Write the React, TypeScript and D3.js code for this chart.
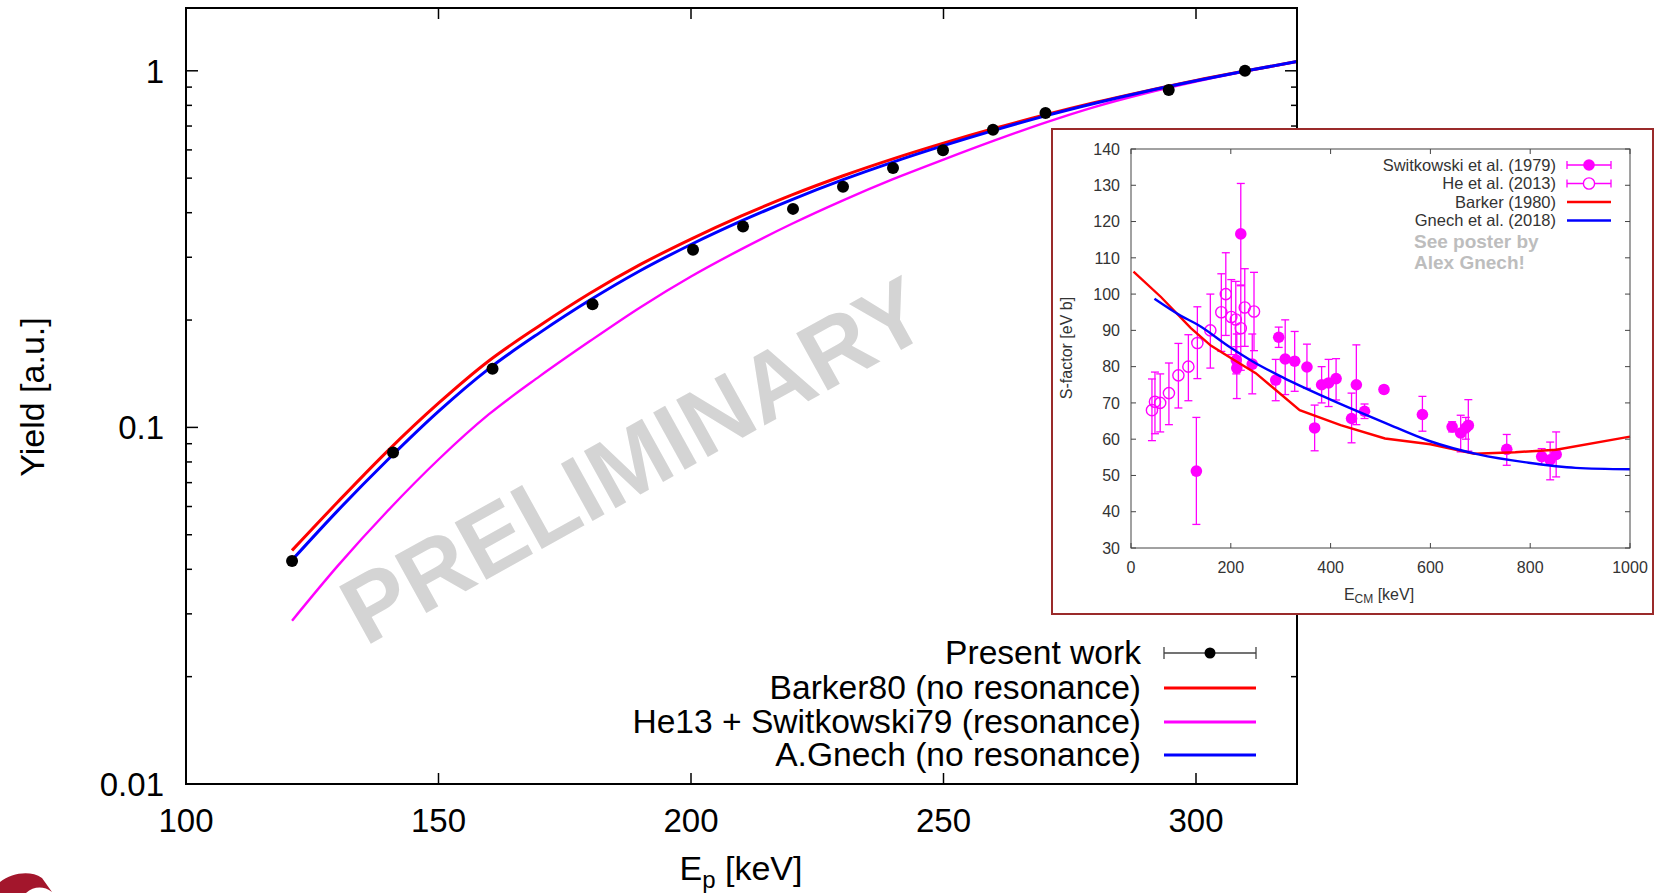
import React from 'react';
import * as d3 from 'd3';

// ---------- Main plot data ----------
const presentE = [121, 141, 160.7, 180.5, 200.4, 210.3, 220.2, 230.1, 240, 249.9, 259.8, 270.2, 294.6, 309.7];
const presentY = [0.0422, 0.085, 0.146, 0.2215, 0.3147, 0.366, 0.41, 0.4727, 0.534, 0.599, 0.683, 0.761, 0.884, 1.0];

const curveE = [121, 130, 140, 150, 160, 170, 180, 190, 200, 210, 220, 230, 240, 250, 260, 270, 280, 290, 300, 310, 320];
const barkerY = [0.04519, 0.06166, 0.0861, 0.1169, 0.1538, 0.1928, 0.2377, 0.2864, 0.3373, 0.3917, 0.4487, 0.507, 0.5662, 0.6266, 0.6887, 0.7516, 0.8147, 0.877, 0.9397, 1.0, 1.0617];
const heSwitY = [0.02871, 0.04083, 0.05848, 0.08128, 0.1089, 0.139, 0.1746, 0.2173, 0.2649, 0.3162, 0.3724, 0.4325, 0.4966, 0.5636, 0.6368, 0.7145, 0.7925, 0.865, 0.9333, 0.9977, 1.0617];
const gnechY = [0.04246, 0.05834, 0.08128, 0.1109, 0.1462, 0.1841, 0.2275, 0.2754, 0.3258, 0.3793, 0.4355, 0.4943, 0.5546, 0.6166, 0.6808, 0.7464, 0.811, 0.875, 0.9376, 1.0, 1.0617];

const xTicks = [100, 150, 200, 250, 300];
const yTickVals = [0.01, 0.1, 1];
const yTickLabels = ['0.01', '0.1', '1'];

const legendLabels = ['Present work', 'Barker80 (no resonance)', 'He13 + Switkowski79 (resonance)', 'A.Gnech (no resonance)'];

// ---------- Inset data (S-factor) ----------
const switE = [131, 211, 212, 220, 243, 290, 296, 309, 328, 352.6, 368, 382, 396, 411, 442, 451.6, 468, 507, 584, 643.5, 660.7, 671, 676, 753, 823, 840, 852];
const switS = [51.2, 81.8, 79.6, 116.6, 80.7, 76.3, 88.1, 82.1, 81.5, 79.9, 63.1, 75, 75.5, 76.7, 65.7, 75, 67.7, 73.7, 66.8, 63.4, 61.7, 63.1, 63.8, 57.2, 55.2, 54.3, 55.8];
const switLo = [36.5, 78, 71.2, 102.5, 72.5, 70.6, 85.3, 72.3, 73.2, 74, 56.8, 70, 69, 70.8, 59, 64, 65.7, 72.7, 62.2, 62, 56.5, 60, 56.7, 52.8, 53, 48.8, 49.6];
const switHi = [66, 85.5, 89, 130.5, 89, 82, 90.9, 92.9, 89.7, 86.2, 69.4, 80, 82, 82.2, 72.7, 86, 69.7, 74.7, 71.8, 64.8, 66.6, 66, 70.9, 61.3, 57.4, 59.2, 62];

const heE = [42, 48, 58.5, 76, 95, 115, 133, 159, 181, 190, 201, 210, 220, 228, 246.5];
const heS = [68, 70.3, 70, 72.7, 77.6, 80, 86.5, 90, 95, 100, 93.7, 93, 90.6, 96.3, 95.2];
const heLo = [59.6, 61.5, 62, 64, 68.6, 70.6, 76.7, 79.6, 84.2, 88.6, 83.3, 82.5, 79, 85.6, 84.4];
const heHi = [76.6, 78.5, 78, 81, 86.4, 88.8, 96.5, 100, 105.6, 111.4, 104, 103.5, 102.3, 107, 106];

const barkerInsetE = [5, 60, 120, 160, 200, 250, 338, 420, 509, 600, 688, 770, 852, 1000];
const barkerInsetS = [106.2, 99.2, 90.6, 85.8, 82.4, 78.2, 68.0, 63.9, 60.2, 58.6, 56.0, 56.4, 57.1, 60.7];

const gnechInsetE = [47, 100, 133, 200, 243, 306, 400, 509, 598, 696, 797, 891, 1000];
const gnechInsetS = [98.7, 94.0, 91.6, 85.2, 81.5, 76.9, 70.9, 64.5, 59.5, 55.8, 53.5, 52.1, 51.7];

const insetXTicks = [0, 200, 400, 600, 800, 1000];
const insetYTicks = [30, 40, 50, 60, 70, 80, 90, 100, 110, 120, 130, 140];
const insetLegend = ['Switkowski et al. (1979)', 'He et al. (2013)', 'Barker (1980)', 'Gnech et al. (2018)'];

const FONT = '"Liberation Sans", Arial, Helvetica, sans-serif';

export default function App() {
  const W = 1659, H = 893;
  const L = 186, R = 1297, T = 8, B = 784;
  const x = d3.scaleLinear().domain([100, 320]).range([L, R]);
  const y = d3.scaleLog().domain([0.01, 1.5]).range([B, T]);

  const mkLine = (ys: number[]) =>
    d3.line<number>().x((_, i) => x(curveE[i])).y((v) => y(v)).curve(d3.curveMonotoneX)(ys) as string;

  // minor ticks
  const minor: number[] = [];
  [0.01, 0.1].forEach((d) => { for (let k = 2; k <= 9; k++) minor.push(k * d); });

  // inset scales
  const IL = 1131, IR = 1630, IT = 149, IB = 548;
  const ix = d3.scaleLinear().domain([0, 1000]).range([IL, IR]);
  const iy = d3.scaleLinear().domain([30, 140]).range([IB, IT]);
  const insetLine = (es: number[], ss: number[], curve: any) =>
    d3.line<number>().x((_, i) => ix(es[i])).y((v) => iy(v)).curve(curve)(ss) as string;

  const legY = [653, 688, 722, 755];
  const insLegY = [165, 183.5, 202, 220.5];
  const MAG = '#ff00ff';

  return (
    <svg width={W} height={H} style={{ position: 'absolute', left: 0, top: 0, background: '#fff' }} fontFamily={FONT}>
      <rect x={0} y={0} width={W} height={H} fill="#fff" />

      {/* watermark */}
      <text x={650} y={489} transform="rotate(-29 650 489)" textAnchor="middle" fontSize={95} fontWeight="bold" fill="#d4d4d4">PRELIMINARY</text>

      {/* curves */}
      <path d={mkLine(heSwitY)} fill="none" stroke="#ff00ff" strokeWidth={2.4} />
      <path d={mkLine(barkerY)} fill="none" stroke="#ff0000" strokeWidth={3} />
      <path d={mkLine(gnechY)} fill="none" stroke="#0000ff" strokeWidth={3} />

      {/* data points */}
      {presentE.map((e, i) => (
        <circle key={i} cx={x(e)} cy={y(presentY[i])} r={6} fill="#000" />
      ))}

      {/* frame */}
      <rect x={L} y={T} width={R - L} height={B - T} fill="none" stroke="#000" strokeWidth={2} />
      {yTickVals.map((v) => (
        <g key={v}>
          <line x1={L} x2={L + 12} y1={y(v)} y2={y(v)} stroke="#000" strokeWidth={1.5} />
          <line x1={R} x2={R - 12} y1={y(v)} y2={y(v)} stroke="#000" strokeWidth={1.5} />
        </g>
      ))}
      {minor.map((v) => (
        <g key={v}>
          <line x1={L} x2={L + 6} y1={y(v)} y2={y(v)} stroke="#000" strokeWidth={1.5} />
          <line x1={R} x2={R - 6} y1={y(v)} y2={y(v)} stroke="#000" strokeWidth={1.5} />
        </g>
      ))}
      {xTicks.slice(1).map((v) => (
        <g key={v}>
          <line x1={x(v)} x2={x(v)} y1={B} y2={B - 11} stroke="#000" strokeWidth={1.5} />
          <line x1={x(v)} x2={x(v)} y1={T} y2={T + 11} stroke="#000" strokeWidth={1.5} />
        </g>
      ))}
      {yTickVals.map((v, i) => (
        <text key={v} x={164} y={y(v)} dy="0.36em" textAnchor="end" fontSize={33} fill="#000">{yTickLabels[i]}</text>
      ))}
      {xTicks.map((v) => (
        <text key={v} x={x(v)} y={820} dy="0.36em" textAnchor="middle" fontSize={33} fill="#000">{v}</text>
      ))}
      <text x={741} y={880} textAnchor="middle" fontSize={34} fill="#000">
        E<tspan fontSize={24} dy={8}>p</tspan><tspan dy={-8}> [keV]</tspan>
      </text>
      <text x={32} y={397} transform="rotate(-90 32 397)" textAnchor="middle" dy="0.36em" fontSize={34} fill="#000">Yield [a.u.]</text>

      {/* main legend */}
      {legendLabels.map((t, i) => (
        <text key={t} x={1141} y={legY[i]} dy="0.34em" textAnchor="end" fontSize={33.6} fill="#000">{t}</text>
      ))}
      <line x1={1164} x2={1256} y1={legY[0]} y2={legY[0]} stroke="#444" strokeWidth={1.3} />
      <line x1={1164} x2={1164} y1={legY[0] - 6} y2={legY[0] + 6} stroke="#444" strokeWidth={1.3} />
      <line x1={1256} x2={1256} y1={legY[0] - 6} y2={legY[0] + 6} stroke="#444" strokeWidth={1.3} />
      <circle cx={1210} cy={legY[0]} r={5.5} fill="#000" />
      <line x1={1164} x2={1256} y1={legY[1]} y2={legY[1]} stroke="#ff0000" strokeWidth={3} />
      <line x1={1164} x2={1256} y1={legY[2]} y2={legY[2]} stroke="#ff00ff" strokeWidth={3} />
      <line x1={1164} x2={1256} y1={legY[3]} y2={legY[3]} stroke="#0000ff" strokeWidth={3} />

      {/* ---------- inset ---------- */}
      <rect x={1052} y={129} width={601} height={485} fill="#fff" stroke="#9a2a2a" strokeWidth={2} />
      {heE.map((e, i) => (
        <g key={'he' + i} stroke={MAG} strokeWidth={1.3}>
          <line x1={ix(e)} x2={ix(e)} y1={iy(heLo[i])} y2={iy(heHi[i])} />
          <line x1={ix(e) - 4} x2={ix(e) + 4} y1={iy(heLo[i])} y2={iy(heLo[i])} />
          <line x1={ix(e) - 4} x2={ix(e) + 4} y1={iy(heHi[i])} y2={iy(heHi[i])} />
        </g>
      ))}
      {switE.map((e, i) => (
        <g key={'sw' + i} stroke={MAG} strokeWidth={1.3}>
          <line x1={ix(e)} x2={ix(e)} y1={iy(switLo[i])} y2={iy(switHi[i])} />
          <line x1={ix(e) - 4} x2={ix(e) + 4} y1={iy(switLo[i])} y2={iy(switLo[i])} />
          <line x1={ix(e) - 4} x2={ix(e) + 4} y1={iy(switHi[i])} y2={iy(switHi[i])} />
        </g>
      ))}
      {heE.map((e, i) => (
        <circle key={'hec' + i} cx={ix(e)} cy={iy(heS[i])} r={5.6} fill="none" stroke={MAG} strokeWidth={1.4} />
      ))}
      {switE.map((e, i) => (
        <circle key={'swc' + i} cx={ix(e)} cy={iy(switS[i])} r={5.8} fill={MAG} />
      ))}
      <path d={insetLine(barkerInsetE, barkerInsetS, d3.curveLinear)} fill="none" stroke="#ff0000" strokeWidth={2.4} />
      <path d={insetLine(gnechInsetE, gnechInsetS, d3.curveMonotoneX)} fill="none" stroke="#0000ff" strokeWidth={2.4} />

      <rect x={IL} y={IT} width={IR - IL} height={IB - IT} fill="none" stroke="#444" strokeWidth={1} />
      {insetYTicks.map((v) => (
        <g key={'iyt' + v}>
          <line x1={IL} x2={IL + 5} y1={iy(v)} y2={iy(v)} stroke="#444" />
          <line x1={IR} x2={IR - 5} y1={iy(v)} y2={iy(v)} stroke="#444" />
          <text x={1120} y={iy(v)} dy="0.36em" textAnchor="end" fontSize={16} fill="#333">{v}</text>
        </g>
      ))}
      {insetXTicks.map((v) => (
        <g key={'ixt' + v}>
          <line x1={ix(v)} x2={ix(v)} y1={IB} y2={IB - 5} stroke="#444" />
          <line x1={ix(v)} x2={ix(v)} y1={IT} y2={IT + 5} stroke="#444" />
          <text x={ix(v)} y={567} dy="0.36em" textAnchor="middle" fontSize={16} fill="#333">{v}</text>
        </g>
      ))}
      <text x={1379} y={600} textAnchor="middle" fontSize={16} fill="#333">
        E<tspan fontSize={12} dy={3}>CM</tspan><tspan dy={-3}> [keV]</tspan>
      </text>
      <text x={1066} y={348} transform="rotate(-90 1066 348)" textAnchor="middle" dy="0.36em" fontSize={16} fill="#333">S-factor [eV b]</text>

      {/* inset legend */}
      {insetLegend.map((t, i) => (
        <text key={t} x={1556} y={insLegY[i]} dy="0.36em" textAnchor="end" fontSize={16.5} fill="#333">{t}</text>
      ))}
      {[0, 1].map((i) => (
        <g key={'il' + i} stroke={MAG} strokeWidth={1.3}>
          <line x1={1567} x2={1611} y1={insLegY[i]} y2={insLegY[i]} />
          <line x1={1567} x2={1567} y1={insLegY[i] - 4} y2={insLegY[i] + 4} />
          <line x1={1611} x2={1611} y1={insLegY[i] - 4} y2={insLegY[i] + 4} />
        </g>
      ))}
      <circle cx={1589} cy={insLegY[0]} r={5.8} fill={MAG} />
      <circle cx={1589} cy={insLegY[1]} r={5.6} fill="#fff" stroke={MAG} strokeWidth={1.4} />
      <line x1={1567} x2={1611} y1={insLegY[2]} y2={insLegY[2]} stroke="#ff0000" strokeWidth={2.4} />
      <line x1={1567} x2={1611} y1={insLegY[3]} y2={insLegY[3]} stroke="#0000ff" strokeWidth={2.4} />
      <text x={1414} y={241} dy="0.36em" fontSize={19} fontWeight="bold" fill="#bdbdbd">See poster by</text>
      <text x={1414} y={262} dy="0.36em" fontSize={19} fontWeight="bold" fill="#bdbdbd">Alex Gnech!</text>

      {/* logo fragment bottom-left */}
      <path d="M0,882 C12,873 30,870 42,878 L52,892 C44,886 34,886 26,893 L0,893 Z" fill="#a3162c" />
    </svg>
  );
}
